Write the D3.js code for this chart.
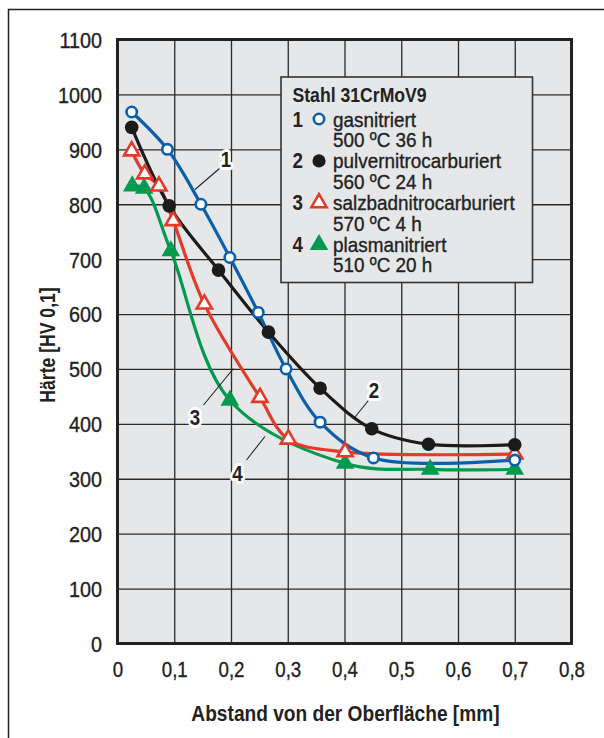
<!DOCTYPE html>
<html>
<head>
<meta charset="utf-8">
<script src="https://cdn.jsdelivr.net/npm/d3@7"></script>
<style>
  body { margin: 0; background: #fff; }
  svg { display: block; }
  text { font-family: "Liberation Sans", Arial, sans-serif; fill: #222; }
  .heavy { stroke: #222; stroke-width: 0.35px; }
</style>
</head>
<body>
<svg id="chart" width="604" height="738"></svg>
<script>
// values
var xTicks = [0, 0.1, 0.2, 0.3, 0.4, 0.5, 0.6, 0.7, 0.8];
var xTickLabels = ["0", "0,1", "0,2", "0,3", "0,4", "0,5", "0,6", "0,7", "0,8"];
var yTicks = [0, 100, 200, 300, 400, 500, 600, 700, 800, 900, 1000, 1100];

var gasX = [0.025, 0.088, 0.147, 0.198, 0.248, 0.297, 0.357, 0.451, 0.700];
var gasY = [968, 900, 800, 703, 603, 500, 403, 338, 334];
var pulverX = [0.025, 0.091, 0.178, 0.266, 0.357, 0.448, 0.548, 0.700];
var pulverY = [940, 797, 680, 567, 465, 391, 363, 362];
var salzX = [0.025, 0.048, 0.073, 0.098, 0.153, 0.251, 0.301, 0.401, 0.700];
var salzY = [897, 855, 833, 770, 618, 448, 372, 349, 345];
var plasmaX = [0.026, 0.047, 0.094, 0.198, 0.401, 0.551, 0.700];
var plasmaY = [833, 829, 715, 443, 328, 317, 317];

var legendTitle = "Stahl 31CrMoV9";
var seriesNames = ["gasnitriert", "pulvernitrocarburiert", "salzbadnitrocarburiert", "plasmanitriert"];
var seriesNotes = ["500 ºC 36 h", "560 ºC 24 h", "570 ºC 4 h", "510 ºC 20 h"];

var blue = "#0a5fab", black = "#1b1b1b", red = "#e23b2a", green = "#03994f";

var series = [
	{ id: "1", x: gasX, y: gasY, color: blue, shape: "circle", fill: "#fff" },
	{ id: "2", x: pulverX, y: pulverY, color: black, shape: "circle", fill: black },
	{ id: "3", x: salzX, y: salzY, color: red, shape: "triangle", fill: "#fff" },
	{ id: "4", x: plasmaX, y: plasmaY, color: green, shape: "triangle", fill: green }
];

var svg = d3.select("#chart");

// no condensed face installed, so squeeze the text horizontally
function squeeze(sel, s) {
	sel.each(function() {
		var t = d3.select(this);
		var tx = +t.attr("x") || 0, ty = +t.attr("y") || 0;
		t.attr("transform", "translate(" + tx + "," + ty + ") scale(" + s + ",1)")
			.attr("x", 0).attr("y", 0);
	});
}

// outer frame
svg.append("rect")
	.attr("x", 8.5).attr("y", 9.5)
	.attr("width", 640).attr("height", 760)
	.attr("fill", "#fff").attr("stroke", "#222").attr("stroke-width", 1.5);

var x = d3.scaleLinear().domain([0, 0.8]).range([117.5, 571.5]);
var y = d3.scaleLinear().domain([0, 1100]).range([643.5, 39.5]);
var pLeft = x(0), pRight = x(0.8), pTop = y(1100), pBottom = y(0);

svg.append("rect")
	.attr("x", pLeft).attr("y", pTop)
	.attr("width", pRight - pLeft).attr("height", pBottom - pTop)
	.attr("fill", "#e6e7e9");

// grid
svg.append("g")
	.attr("transform", "translate(0," + pBottom + ")")
	.call(d3.axisBottom(x).tickValues(xTicks).tickSize(-(pBottom - pTop)).tickFormat(""))
	.call(function(g) {
		g.select(".domain").remove();
		g.selectAll("line").attr("stroke", "#2a2a2a").attr("stroke-width", 1.3);
	});
svg.append("g")
	.attr("transform", "translate(" + pLeft + ",0)")
	.call(d3.axisLeft(y).tickValues(yTicks).tickSize(-(pRight - pLeft)).tickFormat(""))
	.call(function(g) {
		g.select(".domain").remove();
		g.selectAll("line").attr("stroke", "#2a2a2a").attr("stroke-width", 1.3);
	});

// tick labels
svg.append("g")
	.attr("transform", "translate(0," + pBottom + ")")
	.call(d3.axisBottom(x).tickValues(xTicks).tickSize(0).tickPadding(0)
		.tickFormat(function(d, i) { return xTickLabels[i]; }))
	.call(function(g) {
		g.select(".domain").remove();
		g.selectAll("text").attr("y", 33).attr("dy", 0)
			.attr("font-size", 22).attr("fill", "#222")
			.attr("font-family", null).attr("class", "heavy")
			.call(squeeze, 0.85);
	});
svg.append("g")
	.attr("transform", "translate(" + pLeft + ",0)")
	.call(d3.axisLeft(y).tickValues(yTicks).tickSize(0).tickPadding(15.5).tickFormat(d3.format("d")))
	.call(function(g) {
		g.select(".domain").remove();
		g.selectAll("text").attr("dy", "0.36em")
			.attr("font-size", 22).attr("fill", "#222")
			.attr("font-family", null).attr("class", "heavy")
			.call(squeeze, 0.9);
	});

// legend box
var lg = svg.append("g");
lg.append("rect")
	.attr("x", 281).attr("y", 77)
	.attr("width", 251.5).attr("height", 205.5)
	.attr("fill", "#e6e7e9").attr("stroke", "#333").attr("stroke-width", 1.6);
lg.append("text")
	.attr("x", 292.5).attr("y", 101.5)
	.attr("font-size", 21).attr("font-weight", "bold")
	.text(legendTitle)
	.call(squeeze, 0.84);

function marker(sel, s, size) {
	var sym = d3.symbol().type(s.shape === "circle" ? d3.symbolCircle : d3.symbolTriangle).size(size);
	sel.attr("d", sym)
		.attr("fill", s.fill)
		.attr("stroke", s.color)
		.attr("stroke-width", s.fill === "#fff" ? 2.6 : 0);
}

series.forEach(function(s, i) {
	var base = 126.5 + i * 41.9;
	lg.append("text")
		.attr("x", 292.5).attr("y", base)
		.attr("font-size", 22).attr("font-weight", "bold")
		.text(s.id)
		.call(squeeze, 0.85);
	lg.append("path")
		.attr("transform", "translate(319," + (base - 7.5) + ")")
		.call(marker, s, s.shape === "circle" ? (s.fill === "#fff" ? 85 : 135) : (s.fill === "#fff" ? 100 : 150));
	lg.append("text")
		.attr("x", 333).attr("y", base)
		.attr("font-size", 21).attr("class", "heavy")
		.text(seriesNames[i])
		.call(squeeze, 0.9);
	lg.append("text")
		.attr("x", 333).attr("y", base + 20.2)
		.attr("font-size", 21).attr("class", "heavy")
		.text(seriesNotes[i])
		.call(squeeze, 0.9);
});

// plot border
svg.append("rect")
	.attr("x", pLeft).attr("y", pTop)
	.attr("width", pRight - pLeft).attr("height", pBottom - pTop)
	.attr("fill", "none").attr("stroke", "#222").attr("stroke-width", 3);

// curves
var line = d3.line()
	.x(function(d) { return x(d[0]); })
	.y(function(d) { return y(d[1]); })
	.curve(d3.curveCatmullRom.alpha(0.5));

series.slice().reverse().forEach(function(s) {
	var pts = d3.zip(s.x, s.y);
	svg.append("path")
		.datum(pts)
		.attr("d", line)
		.attr("fill", "none")
		.attr("stroke", s.color)
		.attr("stroke-width", 3.2)
		.attr("stroke-linejoin", "round");
});
series.slice().reverse().forEach(function(s) {
	var pts = d3.zip(s.x, s.y);
	svg.append("g").selectAll("path")
		.data(pts)
		.enter().append("path")
			.attr("transform", function(d) { return "translate(" + x(d[0]) + "," + y(d[1]) + ")"; })
			.each(function() {
				d3.select(this).call(marker, s, s.shape === "circle" ? (s.fill === "#fff" ? 85 : 145) : (s.fill === "#fff" ? 100 : 150));
			});
});

// callout numbers with leader lines
var callouts = [
	{ t: "1", tx: 226, ty: 167, l: [[219.5, 168.5], [195, 189.5]] },
	{ t: "2", tx: 374, ty: 398, l: [[370, 398.5], [355, 417]] },
	{ t: "3", tx: 195, ty: 424.5, l: [[203.5, 405], [233.5, 368.5]] },
	{ t: "4", tx: 237.5, ty: 481, l: [[246.5, 460], [265, 436.5]] }
];
callouts.forEach(function(c) {
	svg.append("line")
		.attr("x1", c.l[0][0]).attr("y1", c.l[0][1])
		.attr("x2", c.l[1][0]).attr("y2", c.l[1][1])
		.attr("stroke", "#222").attr("stroke-width", 1.1);
	svg.append("text")
		.attr("x", c.tx).attr("y", c.ty)
		.attr("text-anchor", "middle")
		.attr("font-size", 22).attr("font-weight", "bold")
		.attr("stroke", "#fff").attr("stroke-width", 6).attr("paint-order", "stroke")
		.attr("stroke-linejoin", "round")
		.text(c.t)
		.call(squeeze, 0.85);
});

// axis titles
svg.append("text")
	.attr("x", 345.5).attr("y", 721)
	.attr("text-anchor", "middle")
	.attr("font-size", 22).attr("font-weight", "bold")
	.text("Abstand von der Oberfläche [mm]")
	.call(squeeze, 0.87);
svg.append("text")
	.attr("transform", "translate(55,345) rotate(-90) scale(0.8,1)")
	.attr("text-anchor", "middle")
	.attr("font-size", 22).attr("font-weight", "bold")
	.text("Härte [HV 0,1]");
</script>
</body>
</html>
